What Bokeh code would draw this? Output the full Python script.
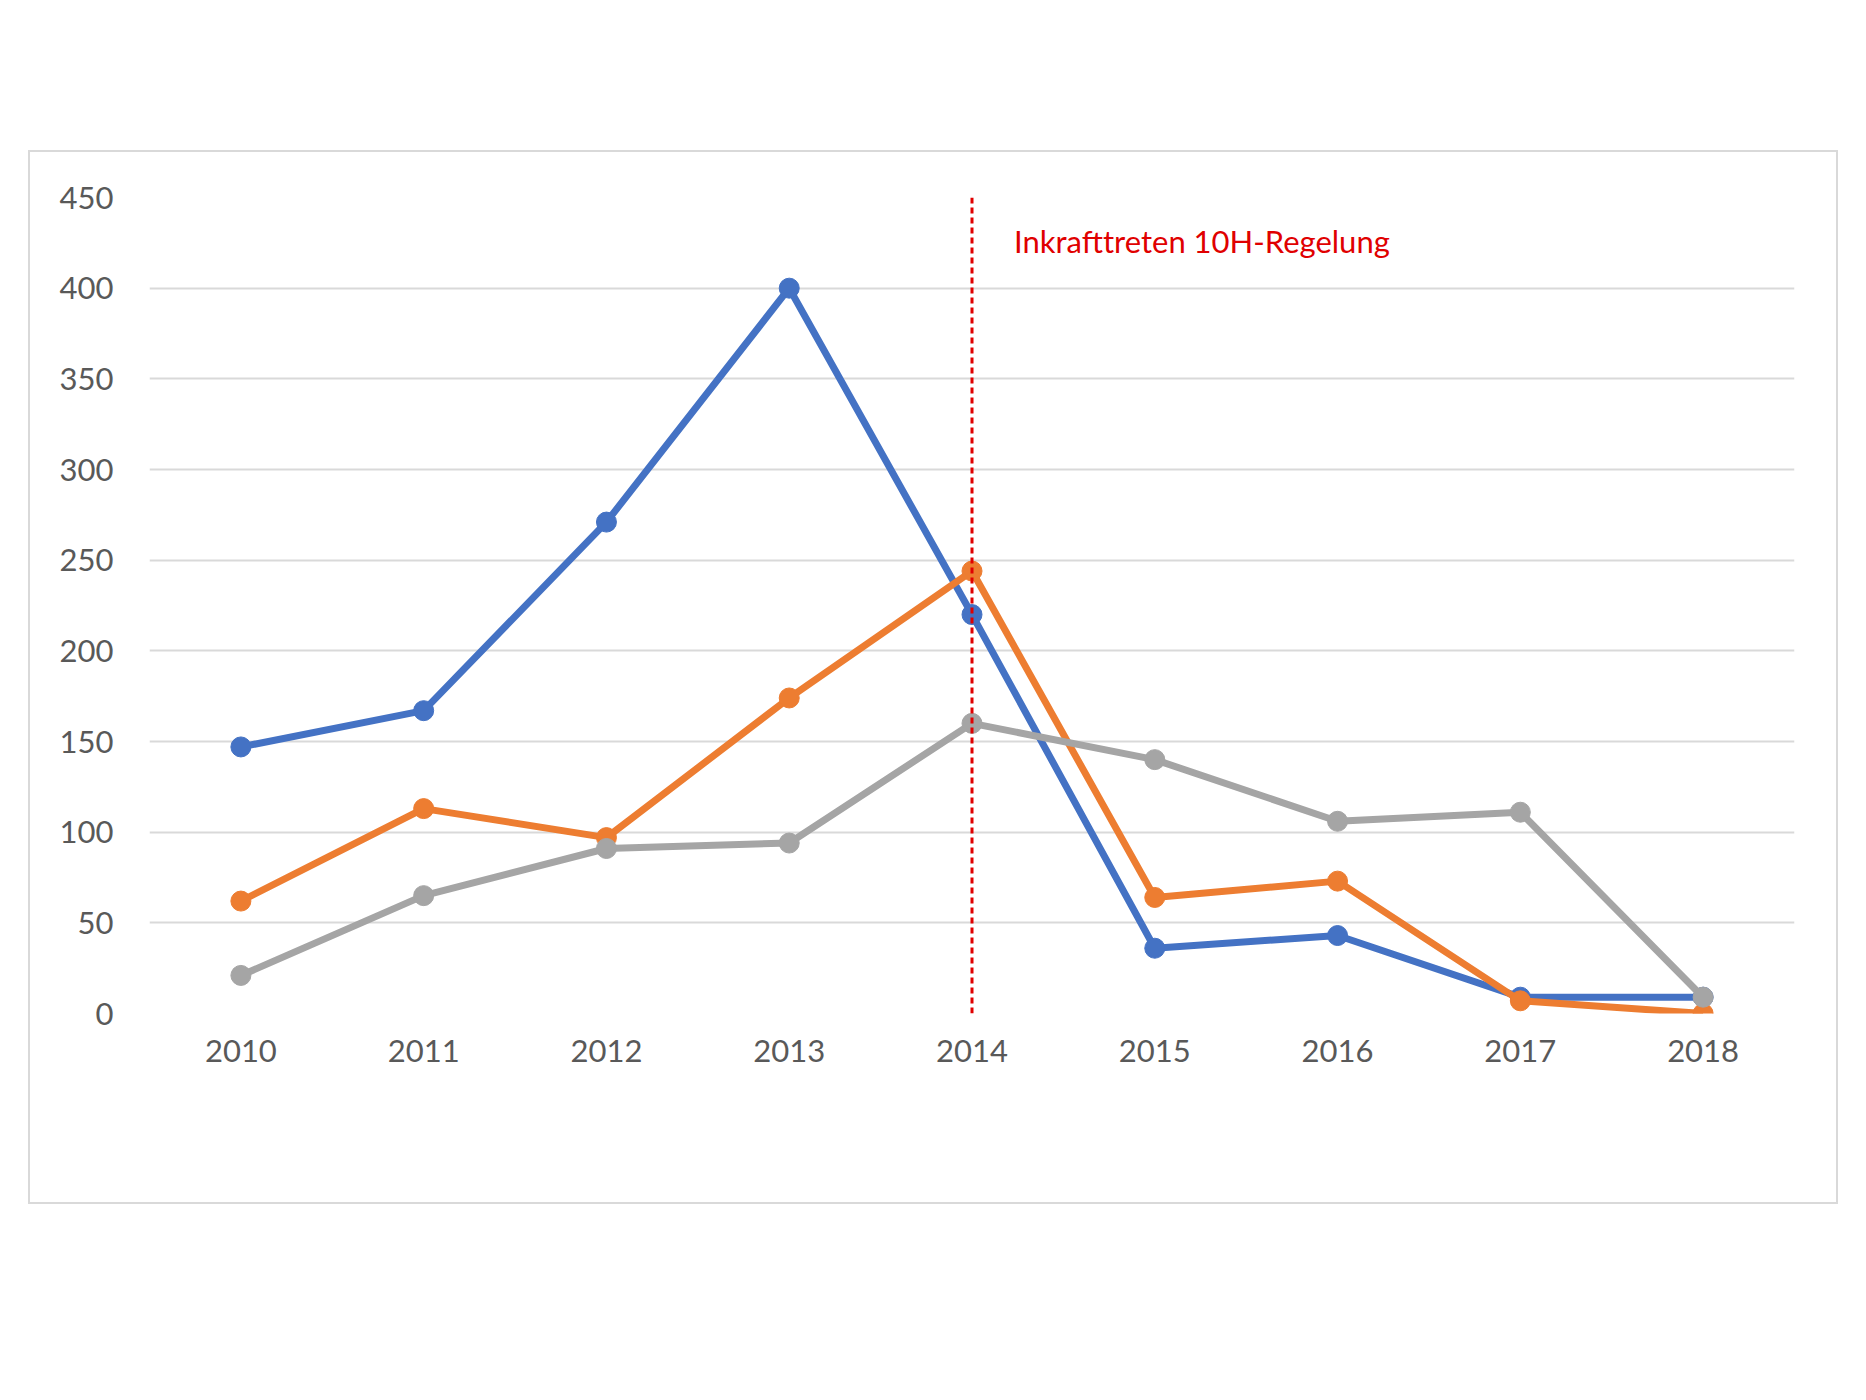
from bokeh.plotting import figure
from bokeh.models import Span, Label, Legend, LegendItem, FixedTicker
from bokeh.embed import file_html
from bokeh.resources import INLINE

years = [2010, 2011, 2012, 2013, 2014, 2015, 2016, 2017, 2018]
antraege = [147, 167, 271, 400, 220, 36, 43, 9, 9]
genehmigungen = [62, 113, 97, 174, 244, 64, 73, 7, 0]
inbetrieb = [21, 65, 91, 94, 160, 140, 106, 111, 9]
names = ["Anträge", "Genehmigungen", "Inbetriebnahmen"]
colors = ["#4472c4", "#ed7d31", "#a5a5a5"]
FONT = "Lato"

p = figure(width=1810, height=1054, x_range=(2009.5, 2018.5), y_range=(0, 450),
           output_backend="svg", toolbar_location=None,
           min_border_left=119, min_border_right=46, min_border_top=45, min_border_bottom=193)
p.styles = {"border": "2px solid #d9d9d9", "margin-left": "28px", "margin-top": "150px"}
p.outline_line_color = None
p.xgrid.grid_line_color = None
p.ygrid.grid_line_color = "#d9d9d9"
p.ygrid.grid_line_width = 2
p.yaxis.ticker = FixedTicker(ticks=list(range(0, 451, 50)))
p.xaxis.ticker = FixedTicker(ticks=years)
for ax in (p.xaxis, p.yaxis):
    ax.axis_line_color = None
    ax.major_tick_line_color = None
    ax.minor_tick_line_color = None
    ax.major_label_text_font = FONT
    ax.major_label_text_font_size = "31px"
    ax.major_label_text_color = "#595959"
p.yaxis.major_label_standoff = 30
p.xaxis.major_label_standoff = 20

items = []
for name, col, vals in zip(names, colors, [antraege, genehmigungen, inbetrieb]):
    r1 = p.line(years, vals, line_color=col, line_width=7)
    r2 = p.scatter(years, vals, size=20, fill_color=col, line_color=col)
    items.append(LegendItem(label=name, renderers=[r1, r2]))

p.add_layout(Span(location=2014, dimension="height", line_color="#e00000",
                  line_dash="6 4", line_width=3))
p.add_layout(Label(x=2014.23, y=426, text="Inkrafttreten 10H-Regelung", text_color="#e00000",
                   text_font=FONT, text_font_size="31px", text_baseline="middle"))

leg = Legend(items=items, orientation="horizontal", location=(270, -160),
             label_text_font=FONT, label_text_font_size="31px", label_text_color="#595959",
             glyph_width=85, glyph_height=30, spacing=50, border_line_color=None,
             background_fill_alpha=0, label_standoff=5)
p.add_layout(leg, "center")

open("out.html", "w").write(file_html(p, INLINE))
